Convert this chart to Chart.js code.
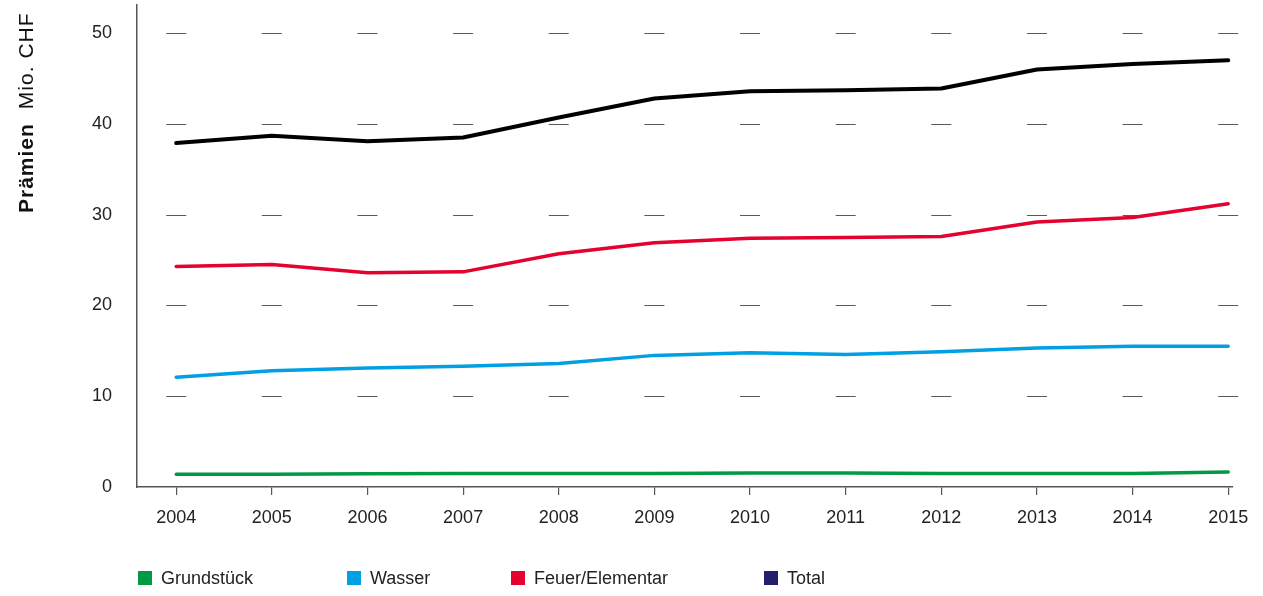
<!DOCTYPE html>
<html>
<head>
<meta charset="utf-8">
<script src="https://cdn.jsdelivr.net/npm/chart.js@4"></script>
<style>
  body { margin: 0; background: #fff; font-family: "Liberation Sans", Arial, sans-serif; }
  #wrap { position: relative; width: 1263px; height: 596px; }
  #wrap canvas { position: absolute; left: 0; top: 0; }
  .leg { position: absolute; top: 567px; font-size: 18px; color: #222; line-height: 22px; white-space: nowrap; }
  .leg span { display: inline-block; width: 14px; height: 14px; margin-right: 9px; vertical-align: -1px; }
</style>
</head>
<body>
<div id="wrap">
  <canvas id="chart" width="1263" height="596"></canvas>
  <div class="leg" style="left:138px"><span style="background:#009a44"></span>Grundstück</div>
  <div class="leg" style="left:347px"><span style="background:#00a0e2"></span>Wasser</div>
  <div class="leg" style="left:511px"><span style="background:#e4032e"></span>Feuer/Elementar</div>
  <div class="leg" style="left:764px"><span style="background:#231f6b"></span>Total</div>
</div>
<script>
// values, Mio. CHF
const years = [2004, 2005, 2006, 2007, 2008, 2009, 2010, 2011, 2012, 2013, 2014, 2015];
const grundstueck = [1.4, 1.4, 1.45, 1.5, 1.5, 1.5, 1.55, 1.55, 1.5, 1.5, 1.5, 1.65];
const wasser = [12.1, 12.8, 13.1, 13.3, 13.6, 14.5, 14.8, 14.6, 14.9, 15.3, 15.5, 15.5];
const feuer = [24.3, 24.5, 23.6, 23.7, 25.7, 26.9, 27.4, 27.5, 27.6, 29.2, 29.7, 31.2];
const total = [37.9, 38.7, 38.1, 38.5, 40.7, 42.8, 43.6, 43.7, 43.9, 46.0, 46.6, 47.0];
const yTicks = [0, 10, 20, 30, 40, 50];

function points(values) {
  return years.map((y, i) => ({ x: y, y: values[i] }));
}

function series(label, values, color, width) {
  return {
    label: label,
    data: points(values),
    borderColor: color,
    backgroundColor: color,
    borderWidth: width,
    pointRadius: 0,
    borderCapStyle: 'round',
    borderJoinStyle: 'round',
    tension: 0
  };
}

// short grey dashes at every year on each y tick
const dashGrid = {
  id: 'dashGrid',
  beforeDatasetsDraw(chart) {
    const ctx = chart.ctx;
    const xs = chart.scales.x;
    const ys = chart.scales.y;
    ctx.save();
    ctx.strokeStyle = '#5a5a5a';
    ctx.lineWidth = 1;
    yTicks.forEach(t => {
      if (t === 0) return;
      const py = Math.round(ys.getPixelForValue(t)) + 0.5;
      years.forEach(yr => {
        const px = xs.getPixelForValue(yr);
        ctx.beginPath();
        ctx.moveTo(px - 10, py);
        ctx.lineTo(px + 10, py);
        ctx.stroke();
      });
    });
    ctx.restore();
  }
};

// y axis title: bold "Prämien" + regular "Mio. CHF"
const yTitle = {
  id: 'yTitle',
  afterDraw(chart) {
    const ctx = chart.ctx;
    ctx.save();
    ctx.translate(33, 213);
    ctx.rotate(-Math.PI / 2);
    ctx.fillStyle = '#111';
    ctx.textBaseline = 'alphabetic';
    ctx.textAlign = 'left';
    ctx.letterSpacing = '1px';
    ctx.font = 'bold 21px "Liberation Sans", Arial, sans-serif';
    ctx.fillText('Prämien', 0, 0);
    const w = ctx.measureText('Prämien').width;
    ctx.font = '21px "Liberation Sans", Arial, sans-serif';
    ctx.fillText('Mio. CHF', w + 14, 0);
    ctx.restore();
  }
};

new Chart(document.getElementById('chart'), {
  type: 'line',
  data: {
    datasets: [
      series('Grundstück', grundstueck, '#009a44', 3.5),
      series('Wasser', wasser, '#00a0e2', 3.5),
      series('Feuer/Elementar', feuer, '#e4032e', 3.5),
      series('Total', total, '#000000', 4)
    ]
  },
  options: {
    responsive: false,
    animation: false,
    layout: { padding: { left: 0, top: 5, right: 30, bottom: 0 } },
    plugins: { legend: { display: false }, tooltip: { enabled: false } },
    scales: {
      x: {
        type: 'linear',
        min: 2003.59,
        max: 2015.05,
        afterBuildTicks: s => { s.ticks = years.map(v => ({ value: v })); },
        afterFit: s => { s.height = 109; },
        grid: { drawOnChartArea: false, drawTicks: true, tickLength: 8, color: '#555', lineWidth: 1.2 },
        border: { display: true, color: '#555', width: 1.5 },
        ticks: {
          autoSkip: false,
          maxRotation: 0,
          padding: 12,
          color: '#222',
          font: { family: '"Liberation Sans", Arial, sans-serif', size: 18 },
          callback: v => String(v)
        }
      },
      y: {
        min: 0,
        max: 53.1,
        afterBuildTicks: s => { s.ticks = yTicks.map(v => ({ value: v })); },
        afterFit: s => { s.width = 137; s.paddingTop = 0; s.paddingBottom = 0; },
        // ticks hidden with the grid, their length only pushes the labels left
        grid: { display: false, drawTicks: true, tickLength: 23 },
        border: { display: true, color: '#555', width: 1.5 },
        ticks: {
          padding: 2,
          color: '#222',
          font: { family: '"Liberation Sans", Arial, sans-serif', size: 18 }
        }
      }
    }
  },
  plugins: [dashGrid, yTitle]
});
</script>
</body>
</html>
